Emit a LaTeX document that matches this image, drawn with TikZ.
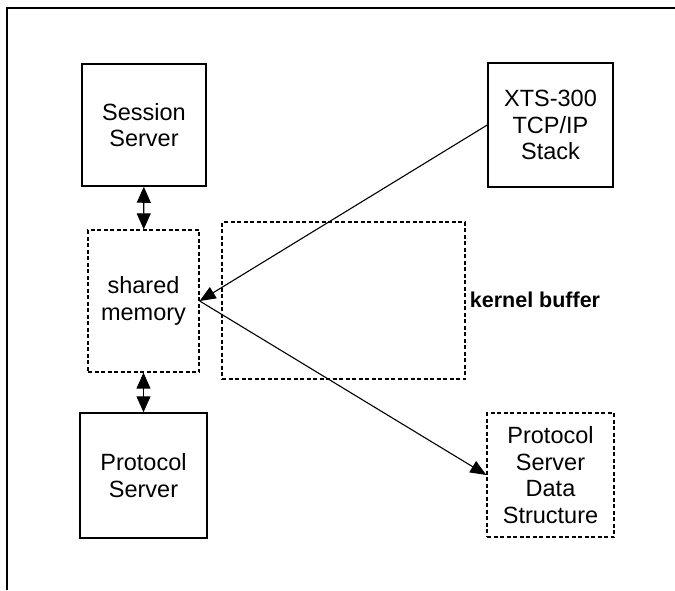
\documentclass[tikz,border=0pt]{standalone}
\usepackage{fontspec}
\setmainfont{Liberation Sans}
\usepackage{tikz}
\usetikzlibrary{arrows.meta}
\tikzstyle{boite} = [draw,line width=1.5pt,inner sep=0pt,align=center,font=\fontsize{23.5}{26.5}\selectfont]
\tikzstyle{boite2} = [boite,line width=1.3pt,dash pattern=on 4pt off 2.5pt]
\tikzstyle{fleche} = [-{Triangle[length=16pt,width=13pt]},line width=1.1pt]
\tikzstyle{fleche2} = [{Triangle[length=16pt,width=14pt]}-{Triangle[length=16pt,width=14pt]},line width=1.1pt]

\begin{document}
\begin{tikzpicture}[x=1pt,y=-1pt]
	\useasboundingbox (0,0) rectangle (675,590);
	\draw[line width=1.5pt] (675,8) -- (7,8) -- (7,590);

	\node[boite, minimum width=124pt, minimum height=122pt] (SS) at (144,125) {Session\\Server};
	\node[boite2, minimum width=111pt, minimum height=142pt] (SM) at (143.5,301) {shared\\memory};
	\node[boite, minimum width=127pt, minimum height=125pt] (PS) at (143.5,475.5) {Protocol\\Server};

	\node[boite2, minimum width=243pt, minimum height=157pt] (KB) at (343.5,300.5) {};
	\node[font=\fontsize{21.5}{26}\selectfont\bfseries] (KBL) at (535,300) {kernel buffer};

	\node[boite, minimum width=125pt, minimum height=124pt] (XTS) at (550.5,125) {XTS-300\\TCP/IP\\Stack};
	\node[boite2, minimum width=127pt, minimum height=124pt] (PSDS) at (550.5,475) {Protocol\\Server\\Data\\Structure};

	\draw[fleche2] (SS) -- (SM);
	\draw[fleche2] (SM) -- (PS);

	\draw[fleche] (XTS.west) -- (SM.east);
	\draw[fleche] (SM.east) -- (PSDS.west);

\end{tikzpicture}
\end{document}
